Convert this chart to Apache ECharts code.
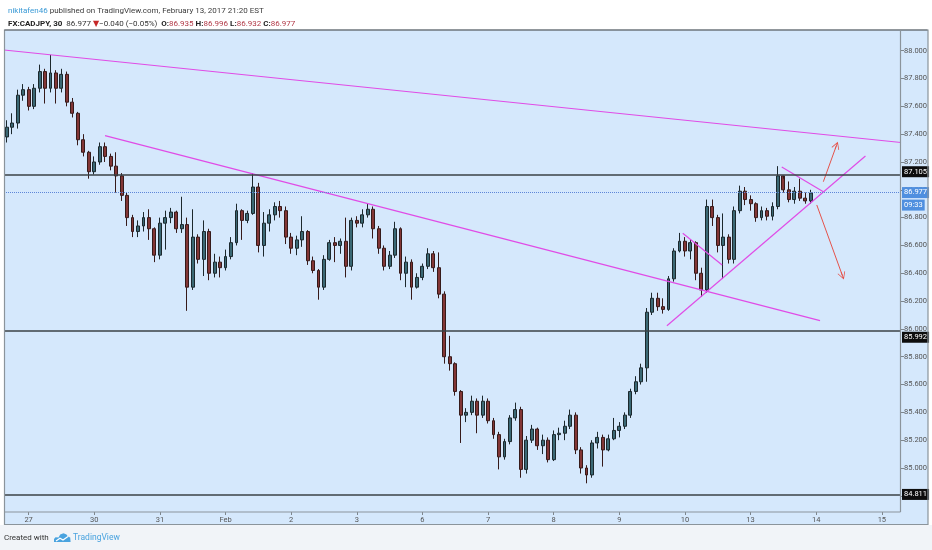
<!DOCTYPE html>
<html>
<head>
<meta charset="utf-8">
<title>FX:CADJPY, 30</title>
<script src="https://cdn.jsdelivr.net/npm/echarts/dist/echarts.min.js"></script>
<style>
html, body { margin: 0; padding: 0; background: #ffffff; }
#main { width: 932px; height: 550px; }
</style>
</head>
<body>
<div id="main"></div>
<script>
// trading days shown on the time axis (2-hour bars, 12 per day)
var dayNames = ['26', '27', '30', '31', 'Feb', '2', '3', '6', '7', '8', '9', '10', '13', '14', '15'];

// OHLC, one value per 2-hour bar
var opens = [
  87.38, 87.45, 87.48, 87.68, 87.72, 87.60, 87.73, 87.85, 87.73, 87.84, 87.73, 87.83, 87.63, 87.55, 87.36, 87.27, 87.13, 87.20, 87.31, 87.24, 87.17, 87.10, 86.96, 86.80, 86.70, 86.74,
  86.80, 86.72, 86.53, 86.76, 86.80, 86.84, 86.72, 86.75, 86.30, 86.66, 86.50, 86.70, 86.40, 86.48, 86.44, 86.52, 86.62, 86.85, 86.78, 86.83, 87.02, 86.60, 86.76, 86.82, 86.88, 86.85,
  86.66, 86.58, 86.64, 86.70, 86.49, 86.42, 86.30, 86.50, 86.62, 86.60, 86.63, 86.45, 86.78, 86.76, 86.82, 86.86, 86.72, 86.58, 86.45, 86.53, 86.72, 86.40, 86.48, 86.30, 86.37, 86.45,
  86.54, 86.44, 86.25, 85.80, 85.75, 85.55, 85.38, 85.40, 85.48, 85.38, 85.48, 85.34, 85.24, 85.08, 85.19, 85.36, 85.42, 84.99, 85.20, 85.28, 85.16, 85.20, 85.06, 85.24,
  85.25, 85.30, 85.38, 85.13, 85.00, 84.95, 85.18, 85.22, 85.13, 85.21, 85.27, 85.30, 85.38, 85.55, 85.62, 85.72, 86.12, 86.22, 86.16, 86.14, 86.36, 86.56, 86.63, 86.56, 86.62, 86.40,
  86.28, 86.88, 86.80, 86.60, 86.66, 86.50, 86.85, 86.99, 86.93, 86.90, 86.80, 86.85, 86.81, 86.88, 87.10, 87.00, 86.93, 86.99, 86.94, 86.92
];
var closes = [
  87.45, 87.48, 87.68, 87.72, 87.60, 87.73, 87.85, 87.73, 87.84, 87.73, 87.83, 87.63, 87.55, 87.36, 87.27, 87.13, 87.20, 87.31, 87.24, 87.17, 87.10, 86.96, 86.80, 86.70, 86.74, 86.80,
  86.72, 86.53, 86.76, 86.80, 86.84, 86.72, 86.75, 86.30, 86.66, 86.50, 86.70, 86.40, 86.48, 86.44, 86.52, 86.62, 86.85, 86.78, 86.83, 87.02, 86.60, 86.76, 86.82, 86.88, 86.85, 86.66,
  86.58, 86.64, 86.70, 86.49, 86.42, 86.30, 86.50, 86.62, 86.60, 86.63, 86.45, 86.78, 86.76, 86.82, 86.86, 86.72, 86.58, 86.45, 86.53, 86.72, 86.40, 86.48, 86.30, 86.37, 86.45, 86.54,
  86.44, 86.25, 85.80, 85.75, 85.55, 85.38, 85.40, 85.48, 85.38, 85.48, 85.34, 85.24, 85.08, 85.19, 85.36, 85.42, 84.99, 85.20, 85.28, 85.16, 85.20, 85.06, 85.24, 85.25,
  85.30, 85.38, 85.13, 85.00, 84.95, 85.18, 85.22, 85.13, 85.21, 85.27, 85.30, 85.38, 85.55, 85.62, 85.72, 86.12, 86.22, 86.16, 86.14, 86.36, 86.56, 86.63, 86.56, 86.62, 86.40, 86.28,
  86.88, 86.80, 86.60, 86.66, 86.50, 86.85, 86.99, 86.93, 86.90, 86.80, 86.85, 86.81, 86.88, 87.10, 87.00, 86.93, 86.99, 86.94, 86.92, 86.977
];
var lows = [
  87.34, 87.40, 87.44, 87.64, 87.57, 87.58, 87.70, 87.62, 87.70, 87.62, 87.70, 87.60, 87.52, 87.32, 87.24, 87.08, 87.11, 87.18, 87.20, 87.14, 86.98, 86.92, 86.74, 86.66, 86.66, 86.70,
  86.64, 86.48, 86.50, 86.57, 86.76, 86.69, 86.69, 86.13, 86.28, 86.47, 86.38, 86.35, 86.37, 86.37, 86.42, 86.50, 86.60, 86.64, 86.76, 86.82, 86.55, 86.52, 86.70, 86.78, 86.80, 86.61,
  86.54, 86.53, 86.59, 86.46, 86.40, 86.21, 86.28, 86.49, 86.48, 86.54, 86.37, 86.42, 86.73, 86.73, 86.80, 86.65, 86.54, 86.42, 86.43, 86.51, 86.35, 86.30, 86.21, 86.29, 86.35, 86.43,
  86.41, 86.22, 85.75, 85.70, 85.52, 85.18, 85.33, 85.38, 85.25, 85.36, 85.32, 85.21, 84.99, 85.06, 85.17, 85.34, 84.93, 84.96, 85.18, 85.13, 85.10, 85.04, 85.05, 85.20,
  85.20, 85.28, 85.10, 84.96, 84.89, 84.93, 85.14, 85.01, 85.12, 85.20, 85.22, 85.28, 85.36, 85.53, 85.60, 85.62, 86.10, 86.13, 86.11, 86.13, 86.34, 86.55, 86.52, 86.50, 86.35, 86.23,
  86.26, 86.74, 86.55, 86.36, 86.47, 86.47, 86.83, 86.89, 86.85, 86.77, 86.78, 86.78, 86.78, 86.86, 86.98, 86.91, 86.90, 86.92, 86.90, 86.90
];
var highs = [
  87.50, 87.55, 87.72, 87.76, 87.74, 87.76, 87.90, 87.87, 87.97, 87.86, 87.87, 87.85, 87.66, 87.56, 87.40, 87.28, 87.24, 87.34, 87.34, 87.26, 87.27, 87.12, 86.98, 86.82, 86.78, 86.84,
  86.86, 86.73, 86.80, 86.85, 86.87, 86.85, 86.95, 86.80, 86.86, 86.68, 86.78, 86.72, 86.54, 86.52, 86.57, 86.66, 86.90, 86.86, 86.85, 87.12, 87.05, 86.84, 86.86, 86.91, 86.92, 86.88,
  86.69, 86.67, 86.81, 86.71, 86.52, 86.43, 86.53, 86.64, 86.66, 86.65, 86.80, 86.80, 86.81, 86.86, 86.90, 86.88, 86.74, 86.60, 86.56, 86.77, 86.73, 86.52, 86.50, 86.40, 86.47, 86.58,
  86.56, 86.55, 86.27, 85.95, 85.76, 85.56, 85.43, 85.52, 85.50, 85.52, 85.50, 85.36, 85.26, 85.21, 85.38, 85.47, 85.44, 85.23, 85.31, 85.29, 85.24, 85.22, 85.27, 85.29,
  85.34, 85.42, 85.40, 85.15, 85.02, 85.20, 85.26, 85.24, 85.24, 85.36, 85.33, 85.40, 85.57, 85.66, 85.75, 86.15, 86.26, 86.26, 86.22, 86.38, 86.58, 86.69, 86.66, 86.64, 86.63, 86.44,
  86.93, 86.93, 86.82, 86.83, 86.68, 86.88, 87.03, 87.02, 86.96, 86.91, 86.88, 86.87, 86.91, 87.17, 87.08, 87.06, 87.02, 87.08, 86.98, 87.00
];

// horizontal levels drawn on the chart, and where their price tags sit
var levels = [87.105, 85.992, 84.811];
var levelTags = [87.13, 85.942, 84.811];
var lastPrice = 86.977;
var timerTag = 86.894;   // "09:33" box under the last price tag

// drawings: [bar index, price] end points
var trendLines = [
  [[-0.5, 88.005], [163.5, 87.340]],
  [[17.97, 87.389], [148.7, 86.059]],
  [[120.7, 86.023], [157.0, 87.243]],
  [[123.6, 86.687], [130.8, 86.459]],
  [[141.7, 87.164], [149.3, 86.986]]
];
var arrowLines = [
  [[149.3, 87.058], [151.7, 87.319]],
  [[148.1, 86.891], [152.8, 86.382]]
];

var FONT = 'Roboto, "Noto Sans", "DejaVu Sans", sans-serif';
var BG = '#d5e8fc';
var FRAME = '#8b949b';
var ARROW = 'path://M5,0 L10,9 L9.2,9.6 L5.5,2.8 L5.5,10 L4.5,10 L4.5,2.8 L0.8,9.6 L0,9 Z';

var categories = [];
dayNames.forEach(function (d, i) {
  var h0 = i === 0 ? 16 : 0;
  var h1 = i === dayNames.length - 1 ? 6 : 22;
  for (var h = h0; h <= h1; h += 2) {
    categories.push(d + ' ' + (h < 10 ? '0' : '') + h + ':00');
  }
});

var candles = opens.map(function (o, i) {
  return [o, closes[i], lows[i], highs[i]];
});

function isDayStart(idx, val) {
  return val.slice(-5) === '00:00';
}

function tag(price, text, bg) {
  return {
    yAxis: price,
    lineStyle: { color: 'rgba(0,0,0,0)', width: 0 },
    label: {
      show: true, position: 'end', distance: 1, formatter: text,
      backgroundColor: bg, color: '#ffffff', fontSize: 7.5, fontFamily: FONT,
      padding: [2, 2, 1, 2]
    }
  };
}

var lineMarks = levels.map(function (v) {
  return { yAxis: v, lineStyle: { color: '#3a4246', width: 1.5, type: 'solid' }, label: { show: false } };
});
lineMarks.push({ yAxis: lastPrice, lineStyle: { color: '#5d86d8', width: 1, type: 'dotted' }, label: { show: false } });

var tagMarks = levelTags.map(function (v, i) {
  return tag(v, levels[i].toFixed(3), '#0d0d0d');
});
tagMarks.push(tag(lastPrice, lastPrice.toFixed(3), '#4f8fdf'));
tagMarks.push(tag(timerTag, '09:33', '#4f8fdf'));

var chart = echarts.init(document.getElementById('main'));
chart.setOption({
  animation: false,
  backgroundColor: '#ffffff',
  textStyle: { fontFamily: FONT },
  title: [
    {
      left: 3, top: 2,
      text: '{u|nikitafen46} published on TradingView.com, February 13, 2017 21:20 EST',
      textStyle: {
        fontSize: 8, fontWeight: 'normal', color: '#3c3c3c', fontFamily: FONT,
        rich: { u: { color: '#3a9ad6', fontSize: 8, fontFamily: FONT } }
      }
    },
    {
      left: 3, top: 15,
      text: '{b|FX:CADJPY, 30}  86.977 {r|▼}\u22120.040 (\u22120.05%)  {b|O:}{v|86.935} {b|H:}{v|86.996} {b|L:}{v|86.932} {b|C:}{v|86.977}',
      textStyle: {
        fontSize: 8, fontWeight: 'normal', color: '#333333', fontFamily: FONT,
        rich: {
          b: { fontWeight: 'bold', color: '#222222', fontSize: 8, fontFamily: FONT },
          v: { color: '#b23a48', fontSize: 8, fontFamily: FONT },
          r: { color: '#c62828', fontSize: 8, fontFamily: FONT }
        }
      }
    }
  ],
  grid: { left: 4, right: 31, top: 22.88, bottom: 26.36, outerBoundsMode: 'none' },
  xAxis: [
    {
      type: 'category', data: categories, boundaryGap: true, offset: -11.64,
      axisLine: { show: false, onZero: false },
      axisTick: { show: true, interval: isDayStart, alignWithLabel: true, length: 3, lineStyle: { color: '#7d868d' } },
      axisLabel: {
        interval: isDayStart, margin: 4, fontSize: 7.5, color: '#555555', fontFamily: FONT,
        formatter: function (v) { return v.split(' ')[0]; }
      },
      splitLine: { show: false }
    },
    {
      type: 'value', min: -0.5, max: 163.5, show: false,
      axisLine: { show: false, onZero: false }, axisTick: { show: false }, axisLabel: { show: false }, splitLine: { show: false }
    }
  ],
  yAxis: {
    type: 'value', position: 'right', min: 84.6, max: 88.2, interval: 0.2,
    axisLine: { show: false, onZero: false },
    axisTick: { show: true, length: 3, lineStyle: { color: '#7d868d' } },
    axisLabel: {
      margin: 3, fontSize: 7.5, color: '#555555', fontFamily: FONT,
      formatter: function (v) { return (v < 84.9 || v > 88.1) ? '' : v.toFixed(3); }
    },
    splitLine: { show: false }
  },
  graphic: [
    { type: 'rect', z: -10, silent: true, shape: { x: 0, y: 525, width: 932, height: 25 }, style: { fill: '#f1f4f8' } },
    { type: 'rect', z: -10, silent: true, shape: { x: 4, y: 30, width: 924, height: 495 }, style: { fill: BG } },
    { type: 'rect', z: 50, silent: true, shape: { x: 895, y: 0, width: 37, height: 29.5 }, style: { fill: '#ffffff' } },
    { type: 'rect', z: 50, silent: true, shape: { x: 901, y: 512.8, width: 26, height: 11.5 }, style: { fill: BG } },
    { type: 'rect', z: 60, silent: true, shape: { x: 4.5, y: 30, width: 923.5, height: 494.5 }, style: { fill: null, stroke: FRAME, lineWidth: 1.2 } },
    { type: 'line', z: 60, silent: true, shape: { x1: 4.5, y1: 30, x2: 927.5, y2: 30 }, style: { stroke: '#5e666c', lineWidth: 1.2 } },
    { type: 'line', z: 60, silent: true, shape: { x1: 900.5, y1: 30, x2: 900.5, y2: 512 }, style: { stroke: FRAME, lineWidth: 1.2 } },
    { type: 'line', z: 60, silent: true, shape: { x1: 4.5, y1: 512, x2: 900.5, y2: 512 }, style: { stroke: FRAME, lineWidth: 1.2 } },
    { type: 'text', x: 4, y: 538, silent: true, style: { text: 'Created with', fill: '#333333', fontSize: 8, fontFamily: FONT, verticalAlign: 'middle' } },
    {
      type: 'polygon', silent: true,
      shape: { points: [[54, 542], [54, 539], [55.5, 537.2], [58.5, 537.4], [60.2, 534.6], [63.5, 533.2], [66.5, 534.4], [67.8, 536.4], [70.2, 537.6], [70.6, 542]] },
      style: { fill: '#4aa3df' }
    },
    {
      type: 'polyline', silent: true,
      shape: { points: [[56, 541], [60, 538.2], [63, 540], [68, 536.4]] },
      style: { fill: null, stroke: '#ffffff', lineWidth: 1.2 }
    },
    { type: 'text', x: 73, y: 538, silent: true, style: { text: 'TradingView', fill: '#4aa3df', fontSize: 8.5, fontFamily: FONT, verticalAlign: 'middle' } }
  ],
  series: [
    {
      type: 'candlestick', name: 'CADJPY', xAxisIndex: 0, yAxisIndex: 0,
      data: candles, barWidth: 3.4,
      itemStyle: {
        color: '#3b6874', color0: '#823636',
        borderColor: '#1c282d', borderColor0: '#361a1a', borderWidth: 1
      },
      markLine: { silent: true, symbol: ['none', 'none'], animation: false, data: lineMarks }
    },
    {
      // empty carrier for the price tags on the right axis, not clipped to the plot
      type: 'scatter', name: 'tags', data: [], clip: false, z: 70,
      markLine: { silent: true, symbol: ['none', 'none'], animation: false, data: tagMarks }
    },
    {
      type: 'lines', coordinateSystem: 'cartesian2d', xAxisIndex: 1, yAxisIndex: 0,
      silent: true, z: 4,
      lineStyle: { color: '#e04ce6', width: 1.2, opacity: 1 },
      data: trendLines.map(function (c) { return { coords: c }; })
    },
    {
      type: 'lines', coordinateSystem: 'cartesian2d', xAxisIndex: 1, yAxisIndex: 0,
      silent: true, z: 4,
      symbol: ['none', ARROW], symbolSize: [6, 8],
      lineStyle: { color: '#e5534b', width: 1, opacity: 1 },
      data: arrowLines.map(function (c) { return { coords: c }; })
    }
  ]
});
</script>
</body>
</html>
